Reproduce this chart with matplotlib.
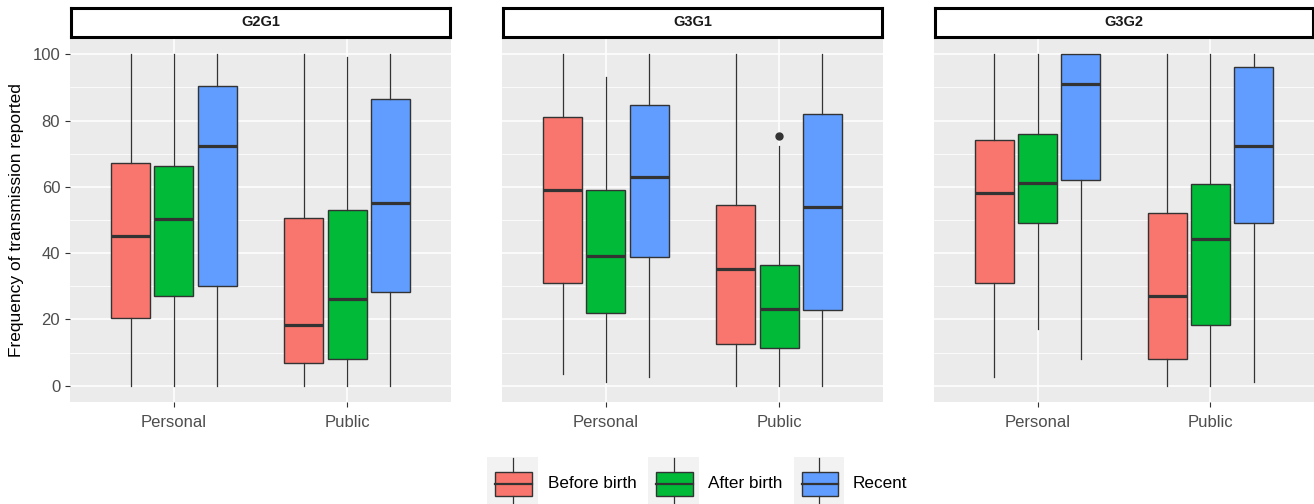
import matplotlib.pyplot as plt
from matplotlib.patches import Rectangle

plt.rcParams["font.family"] = ["Liberation Sans", "DejaVu Sans"]

W, H = 1314, 504

panels = ["G2G1", "G3G1", "G3G2"]
categories = ["Personal", "Public"]
periods = ["Before birth", "After birth", "Recent"]
colors = ["#F8766D", "#00BA38", "#619CFF"]

# per panel -> per category (Personal, Public) -> per period (Before, After, Recent)
whislo = [
    [[0, 0, 0], [0, 0, 0]],
    [[3.4, 1.2, 2.5], [0, 0, 0]],
    [[2.5, 17.2, 8.2], [0, 0, 1.2]],
]
q1 = [
    [[20.5, 27.2, 30.2], [7.0, 8.0, 28.4]],
    [[31.1, 21.8, 38.7], [12.5, 11.5, 22.7]],
    [[31.1, 49.2, 62.0], [8.0, 18.3, 49.2]],
]
med = [
    [[45.1, 50.3, 72.4], [18.3, 26.2, 55.0]],
    [[59.1, 39.0, 62.9], [35.2, 23.0, 54.0]],
    [[58.2, 61.1, 91.1], [27.2, 44.2, 72.4]],
]
q3 = [
    [[67.3, 66.4, 90.4], [50.5, 53.1, 86.6]],
    [[81.1, 59.0, 84.6], [54.5, 36.3, 82.1]],
    [[74.1, 76.0, 100], [52.1, 61.0, 96.1]],
]
whishi = [
    [[100, 100, 100], [100, 99.2, 100]],
    [[100, 93.1, 100], [100, 72.3, 100]],
    [[100, 100, 100], [100, 100, 100]],
]
# outliers: (panel, category, period) -> values
outliers = {(1, 1, 1): [75.2]}

yticks = [0, 20, 40, 60, 80, 100]


def px_rect(x0, y0, x1, y1):
    """Прямоугольник в пикселях -> координаты фигуры."""
    return [x0 / W, 1 - y1 / H, (x1 - x0) / W, (y1 - y0) / H]


fig = plt.figure(figsize=(W / 100, H / 100), dpi=100)

panel_x = [(70, 451), (502, 883), (934, 1314)]
panel_top, panel_bottom = 37.7, 402.3
strip_top = 8.3

offsets = [-0.25, 0.0, 0.25]
box_width = 0.225

for p, name in enumerate(panels):
    x0, x1 = panel_x[p]
    ax = fig.add_axes(px_rect(x0, panel_top, x1, panel_bottom))
    ax.set_facecolor("#EBEBEB")
    for s in ax.spines.values():
        s.set_visible(False)

    for c in range(len(categories)):
        for k in range(len(periods)):
            stats = [{
                "whislo": whislo[p][c][k],
                "q1": q1[p][c][k],
                "med": med[p][c][k],
                "q3": q3[p][c][k],
                "whishi": whishi[p][c][k],
                "fliers": outliers.get((p, c, k), []),
            }]
            ax.bxp(
                stats,
                positions=[c + 1 + offsets[k]],
                widths=box_width,
                patch_artist=True,
                showcaps=False,
                manage_ticks=False,
                boxprops=dict(facecolor=colors[k], edgecolor="#333333", linewidth=1.0),
                medianprops=dict(color="#333333", linewidth=2.3),
                whiskerprops=dict(color="#333333", linewidth=0.9),
                flierprops=dict(marker="o", markersize=5, markerfacecolor="#333333",
                                markeredgecolor="#333333"),
                zorder=3,
            )

    ax.set_xlim(0.4, 2.6)
    ax.set_ylim(-5, 105)
    ax.set_xticks([1, 2])
    ax.set_xticklabels(categories, fontsize=12, color="#4D4D4D")
    ax.set_yticks(yticks)
    ax.set_yticks([10, 30, 50, 70, 90], minor=True)
    ax.tick_params(axis="both", which="major", length=3.6, width=0.8, color="#333333", pad=3.5)
    ax.tick_params(axis="x", which="major", pad=5.5)
    ax.tick_params(axis="y", which="minor", length=0)
    ax.grid(True, which="major", color="white", linewidth=1.1, zorder=0)
    ax.grid(True, which="minor", axis="y", color="white", linewidth=0.55, zorder=0)
    ax.set_axisbelow(True)

    if p == 0:
        ax.set_yticklabels([str(v) for v in yticks], fontsize=12, color="#4D4D4D")
        ax.set_ylabel("Frequency of transmission reported", fontsize=12.5, labelpad=6)
    else:
        ax.tick_params(axis="y", which="both", length=0, labelleft=False)

    # strip
    sax = fig.add_axes(px_rect(x0 + 1, strip_top, x1 - 1, panel_top - 1))
    sax.set_facecolor("white")
    sax.set_xticks([])
    sax.set_yticks([])
    for s in sax.spines.values():
        s.set_linewidth(2.2)
        s.set_color("black")
    sax.text(0.5, 0.5, name, ha="center", va="center", fontsize=10.5,
             fontweight="bold", color="#1A1A1A", transform=sax.transAxes)

# legend (drawn manually in ggplot style)
key_x = [(487, 538), (648, 699), (794, 844)]
text_x = [548, 708, 853]
for k, label in enumerate(periods):
    kx0, kx1 = key_x[k]
    kax = fig.add_axes(px_rect(kx0, 457, kx1, 511))
    kax.set_xlim(kx0, kx1)
    kax.set_ylim(511, 457)
    kax.set_facecolor("#F2F2F2")
    kax.set_xticks([])
    kax.set_yticks([])
    for s in kax.spines.values():
        s.set_visible(False)
    cx = (kx0 + kx1) / 2
    kax.plot([cx, cx], [458, 472], color="#333333", lw=0.9)
    kax.plot([cx, cx], [496, 511], color="#333333", lw=0.9)
    kax.add_patch(Rectangle((kx0 + 8, 472), kx1 - kx0 - 14, 24,
                            facecolor=colors[k], edgecolor="#333333", lw=1.0))
    kax.plot([kx0 + 8, kx1 - 6], [484, 484], color="#333333", lw=1.6)
    fig.text(text_x[k] / W, 1 - 484 / H, label, fontsize=12.3, va="center", ha="left")

fig.savefig("out.png", dpi=100)
